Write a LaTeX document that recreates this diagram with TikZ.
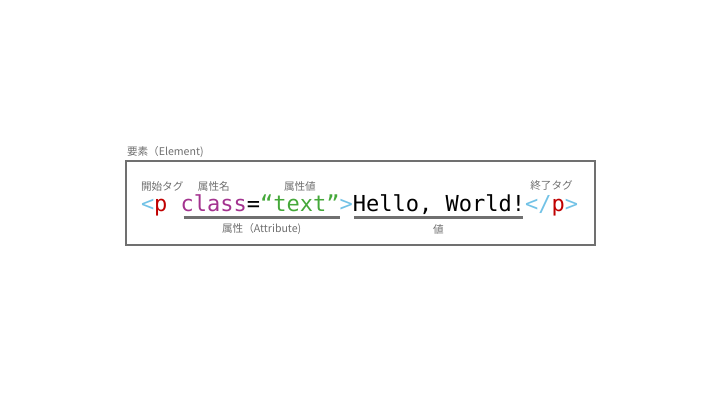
\documentclass[tikz,border=0pt]{standalone}
\usepackage{fontspec}
\usepackage{xcolor}
\setmonofont{DejaVu Sans Mono}
\newfontfamily\jpfont{Noto Sans CJK JP}
\usetikzlibrary{positioning,calc}
\definecolor{tagblue}{HTML}{72C2E6}
\definecolor{tagred}{HTML}{C00000}
\definecolor{attrpurple}{HTML}{A3338F}
\definecolor{valgreen}{HTML}{45A83A}
\definecolor{linegray}{HTML}{707070}
\definecolor{lblgray}{HTML}{6E6E6E}

\begin{document}
\begin{tikzpicture}[
            x=0.5pt, y=-0.5pt,
            every node/.style={inner sep=0pt, outer sep=0pt},
            code/.style={font=\fontsize{11}{13}\selectfont\ttfamily, anchor=base west},
            lbl/.style={font=\fontsize{5.3}{6}\selectfont\jpfont, text=lblgray},
            uline/.style={linegray, line width=1.5pt},
        ]
            \useasboundingbox (0,0) rectangle (720,405);
            % outer element box
            \draw[linegray, line width=1pt] (126,161) rectangle (595,245);
            \node[lbl, anchor=west] (elem) at (127,152) {要素（Element)};
            % code line
            \node[code] (open) at (141,212) {\textcolor{tagblue}{<}\textcolor{tagred}{p}\phantom{x}};
            \node[code, right=0pt of open.base east, anchor=base west] (attr) {\textcolor{attrpurple}{class}=\textcolor{valgreen}{“text”}};
            \node[code, right=0pt of attr.base east, anchor=base west] (gt) {\textcolor{tagblue}{>}};
            \node[code, right=0pt of gt.base east, anchor=base west] (val) {Hello, World!};
            \node[code, right=0pt of val.base east, anchor=base west] (close) {\textcolor{tagblue}{</}\textcolor{tagred}{p}\textcolor{tagblue}{>}};
            % labels above
            \coordinate (toprow) at (0,186);
            \coordinate (namemid) at ($(attr.base west)!0.2083!(attr.base east)$);
            \coordinate (valmid) at ($(attr.base west)!0.75!(attr.base east)$);
            \node[lbl, anchor=west] (starttag) at (open.base west |- toprow) {開始タグ};
            \node[lbl] (attrname) at (namemid |- toprow) {属性名};
            \node[lbl] (attrval) at (valmid |- toprow) {属性値};
            \node[lbl] (endtag) at (close.base |- toprow) {終了タグ};
            % underlines
            \coordinate (a1) at ($(attr.base west)+(3,6)$);
            \coordinate (a2) at ($(attr.base east)+(0,6)$);
            \coordinate (v1) at ($(val.base west)+(1,6)$);
            \coordinate (v2) at ($(val.base east)+(-2,6)$);
            \draw[uline] (a1) -- (a2);
            \draw[uline] (v1) -- (v2);
            \node[lbl] (attrlbl) at ($(a1)!0.5!(a2)+(0,11)$) {属性（Attribute)};
            \node[lbl] (vallbl) at ($(v1)!0.5!(v2)+(0,11)$) {値};
        \end{tikzpicture}
\end{document}
